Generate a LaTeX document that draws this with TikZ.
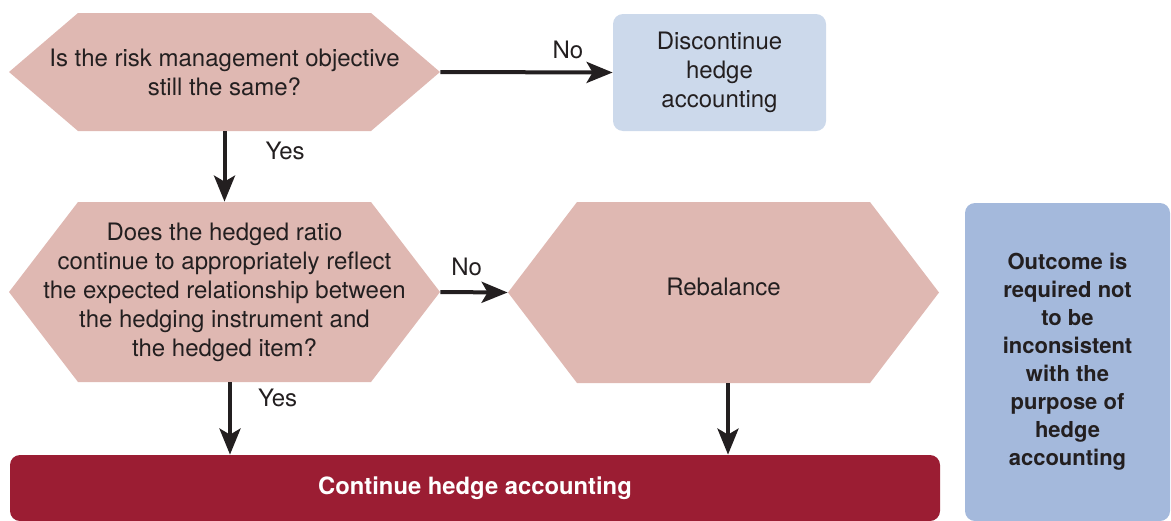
\documentclass[tikz,border=0pt]{standalone}
\usepackage{fontspec}
\setmainfont{TeX Gyre Heros}
\usetikzlibrary{arrows.meta,positioning}

\definecolor{hexpink}{RGB}{223,184,178}
\definecolor{paleblue}{RGB}{204,217,235}
\definecolor{midblue}{RGB}{164,185,220}
\definecolor{darkred}{RGB}{155,29,51}
\definecolor{inkgray}{RGB}{35,31,32}

\tikzset{
  decision/.style={rectangle, inner sep=0pt, align=center, text=inkgray,
    font=\fontsize{12}{14.5}\selectfont,
    path picture={
      \fill[hexpink] (path picture bounding box.west)
        -- ([xshift=34.5pt]path picture bounding box.north west)
        -- ([xshift=-34.5pt]path picture bounding box.north east)
        -- (path picture bounding box.east)
        -- ([xshift=-34.5pt]path picture bounding box.south east)
        -- ([xshift=34.5pt]path picture bounding box.south west) -- cycle;}},
  endbox/.style={rectangle, rounded corners=5pt, inner sep=0pt, align=center},
  flowarrow/.style={-{Stealth[length=13pt,width=10.5pt,inset=3pt]}, line width=2pt, draw=inkgray},
  lbl/.style={text=inkgray, font=\fontsize{12}{14.5}\selectfont, inner sep=1pt}
}

\begin{document}
\begin{tikzpicture}[x=0.5pt, y=-0.5pt]

    \useasboundingbox (0,0) rectangle (1171,520);

    % Questions
    \node[decision, minimum width=215.5pt, minimum height=59pt] (objective) at (224.5,72)
      {Is the risk management objective\\still the same?};
    \node[decision, minimum width=215.5pt, minimum height=90pt] (ratio) at (224.5,292)
      {Does the hedged ratio\\continue to appropriately reflect\\the expected relationship between\\the hedging instrument and\\the hedged item?};
    \node[decision, minimum width=215.5pt, minimum height=90.5pt] (rebalance) at (723.5,292.5)
      {\raisebox{3pt}[\height][\depth]{Rebalance}};

    % Outcomes
    \node[endbox, fill=paleblue, text=inkgray, font=\fontsize{12}{14.5}\selectfont,
      minimum width=106.5pt, minimum height=58.5pt] (discontinue) at (719.5,72.5)
      {Discontinue\\hedge\\accounting};
    \node[endbox, fill=darkred, text=white, font=\bfseries\fontsize{11.9}{14}\selectfont,
      minimum width=465pt, minimum height=33pt] (continue) at (475,488)
      {Continue hedge accounting};
    \node[endbox, fill=midblue, text=inkgray, font=\bfseries\fontsize{11}{14}\selectfont,
      minimum width=102.5pt, minimum height=159pt] (outcome) at (1067.5,362)
      {Outcome is\\required not\\to be\\inconsistent\\with the\\purpose of\\hedge\\accounting};

    % Arrows
    \draw[flowarrow] (objective.east) -- (discontinue.west)
      node[lbl, pos=0.74, above=5pt] {No};
    \draw[flowarrow] (objective.south) -- (ratio.north)
      node[lbl, pos=0.28, right=18.5pt] {Yes};
    \draw[flowarrow] (ratio.east) -- (rebalance.west)
      node[lbl, pos=0.39, above=6pt] {No};
    \draw[flowarrow] ([xshift=2.75pt]ratio.south) -- ([xshift=2.75pt]ratio.south |- continue.north)
      node[lbl, pos=0.22, right=12pt] {Yes};
    \draw[flowarrow] ([xshift=2.25pt]rebalance.south) -- ([xshift=2.25pt]rebalance.south |- continue.north);

\end{tikzpicture}
\end{document}
